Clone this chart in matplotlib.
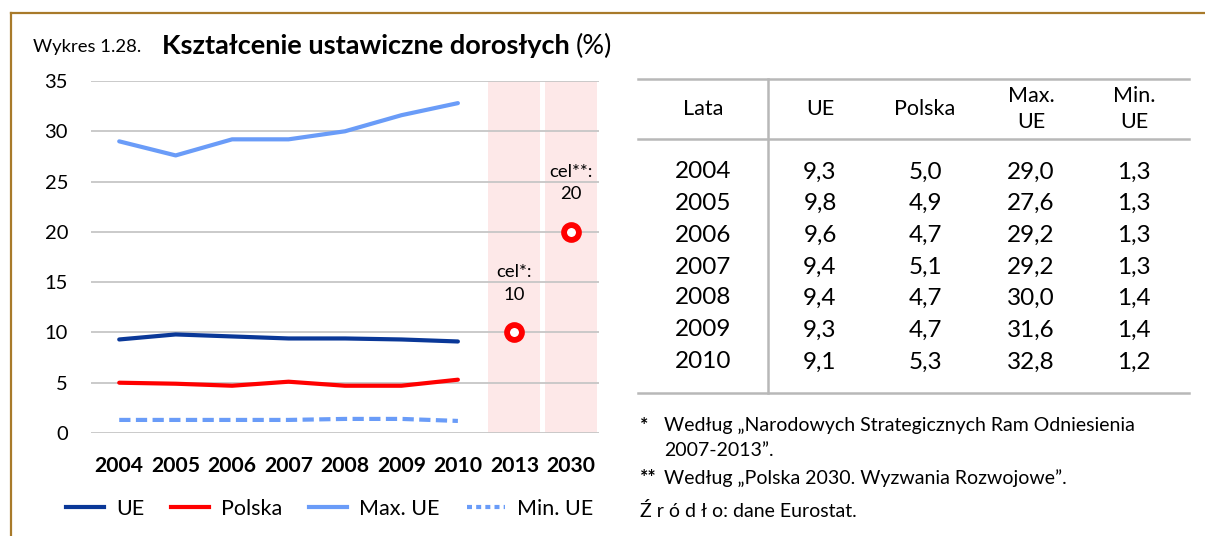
import matplotlib
matplotlib.use("Agg")
import matplotlib.pyplot as plt
from matplotlib.lines import Line2D

plt.rcParams['font.family'] = ['Lato', 'DejaVu Sans']

# ---- data ----
categories = ["2004", "2005", "2006", "2007", "2008", "2009", "2010", "2013", "2030"]
years = ["2004", "2005", "2006", "2007", "2008", "2009", "2010"]
ue = [9.3, 9.8, 9.6, 9.4, 9.4, 9.3, 9.1]
polska = [5.0, 4.9, 4.7, 5.1, 4.7, 4.7, 5.3]
max_ue = [29.0, 27.6, 29.2, 29.2, 30.0, 31.6, 32.8]
min_ue = [1.3, 1.3, 1.3, 1.3, 1.4, 1.4, 1.2]
target_years = ["2013", "2030"]
target_values = [10, 20]
target_names = ["cel*:", "cel**:"]
y_max = 35
y_ticks = [0, 5, 10, 15, 20, 25, 30, 35]

C_UE = '#0A3898'
C_PL = '#FF0000'
C_MAX = '#6A9CF8'

W, H = 1205, 536
fig = plt.figure(figsize=(W / 100, H / 100), dpi=100)
renderer = fig.canvas.get_renderer()

def fx(x):
    return x / W

def fy(y):
    return 1 - y / H

# border
fig.add_artist(Line2D([fx(11), fx(W)], [fy(13), fy(13)], color='#A87A2A', lw=1.6))
fig.add_artist(Line2D([fx(11), fx(11)], [fy(13), fy(H)], color='#A87A2A', lw=1.6))

# title
fig.text(fx(33), fy(47), "Wykres 1.28.", fontsize=13.3, va='center', ha='left')
t_main = fig.text(fx(162), fy(46), "Kształcenie ustawiczne dorosłych", fontsize=19.5,
                  fontweight='bold', va='center', ha='left')
bb = t_main.get_window_extent(renderer=renderer)
fig.text((bb.x1 + 6) / W, fy(46), "(%)", fontsize=19.5, va='center', ha='left')

# chart axes
ax = fig.add_axes([fx(91), fy(433), (599 - 91) / W, (433 - 81) / H])
ax.set_xlim(0, len(categories))
ax.set_ylim(0, y_max)
pos = {c: i + 0.5 for i, c in enumerate(categories)}

# pink target bands
ax.bar([pos[c] for c in target_years], [y_max] * len(target_years), width=0.92,
       color='#FDE8E8', zorder=1)

for t in y_ticks:
    ax.axhline(t, color='#C6C6C6', lw=1.3, zorder=2)

xs = [pos[y] for y in years]
ax.plot(xs, max_ue, color=C_MAX, lw=3, zorder=3, solid_capstyle='round')
ax.plot(xs, min_ue, color=C_MAX, lw=3, ls=(0, (2.7, 1.3)), zorder=3)
ax.plot(xs, polska, color=C_PL, lw=3, zorder=3, solid_capstyle='round')
ax.plot(xs, ue, color=C_UE, lw=3, zorder=3, solid_capstyle='round')

for c, v, name in zip(target_years, target_values, target_names):
    ax.plot([pos[c]], [v], marker='o', ms=10.7, mfc='white', mec=C_PL, mew=4.2,
            zorder=4, ls='none')
    ax.text(pos[c], v + 6.0, name, ha='center', va='center', fontsize=13.3, zorder=5)
    ax.text(pos[c], v + 3.75, str(v), ha='center', va='center', fontsize=13.3, zorder=5)

ax.set_yticks(y_ticks)
ax.set_yticklabels([str(t) for t in y_ticks], fontsize=14.5)
ax.set_xticks([pos[c] for c in categories])
ax.set_xticklabels(categories, fontsize=15.2, fontweight='bold')
ax.tick_params(axis='both', length=0)
ax.tick_params(axis='y', pad=16.5)
ax.tick_params(axis='x', pad=16.5)
for s in ax.spines.values():
    s.set_visible(False)

# legend
handles = [
    Line2D([], [], color=C_UE, lw=3),
    Line2D([], [], color=C_PL, lw=3),
    Line2D([], [], color=C_MAX, lw=3),
    Line2D([], [], color=C_MAX, lw=3, ls=(0, (1.2, 1.0))),
]
fig.legend(handles, ["UE", "Polska", "Max. UE", "Min. UE"], ncol=4, frameon=False,
           loc='center left', bbox_to_anchor=(fx(66), fy(509)), fontsize=15.5,
           handlelength=1.77, columnspacing=1.25, handletextpad=0.55, borderpad=0,
           borderaxespad=0)

# table
tcols = ["Lata", "UE", "Polska", "Max.\nUE", "Min.\nUE"]
col_x = [703, 820, 925, 1031, 1134]
row_y = [172, 203, 235, 267, 298, 330, 362]
line_c = '#B8B8B8'
for yl in (79, 139, 393):
    fig.add_artist(Line2D([fx(638), fx(1189)], [fy(yl), fy(yl)], color=line_c, lw=1.8))
fig.add_artist(Line2D([fx(768), fx(768)], [fy(79), fy(393)], color=line_c, lw=1.8))
for cx, name in zip(col_x, tcols):
    fig.text(fx(cx), fy(109), name, ha='center', va='center', fontsize=15.5,
             linespacing=1.35)

def fmt(v):
    return f"{v:.1f}".replace('.', ',')

for i, yr in enumerate(years):
    vals = [yr, fmt(ue[i]), fmt(polska[i]), fmt(max_ue[i]), fmt(min_ue[i])]
    for cx, v in zip(col_x, vals):
        fig.text(fx(cx), fy(row_y[i]), v, ha='center', va='center', fontsize=17.5)

# footnotes
fn = 14
fig.text(fx(640), fy(425), "*", fontsize=fn, fontweight='bold', va='center', ha='left')
fig.text(fx(664), fy(425), "Według „Narodowych Strategicznych Ram Odniesienia",
         fontsize=fn, va='center', ha='left')
fig.text(fx(664), fy(450), "2007-2013”.", fontsize=fn, va='center', ha='left')
fig.text(fx(640), fy(478), "**", fontsize=fn, fontweight='bold', va='center', ha='left')
fig.text(fx(664), fy(478), "Według „Polska 2030. Wyzwania Rozwojowe”.",
         fontsize=fn, va='center', ha='left')
fig.text(fx(640), fy(511), "Ź r ó d ł o: dane Eurostat.", fontsize=fn, va='center', ha='left')

fig.savefig("out.png", dpi=100)
